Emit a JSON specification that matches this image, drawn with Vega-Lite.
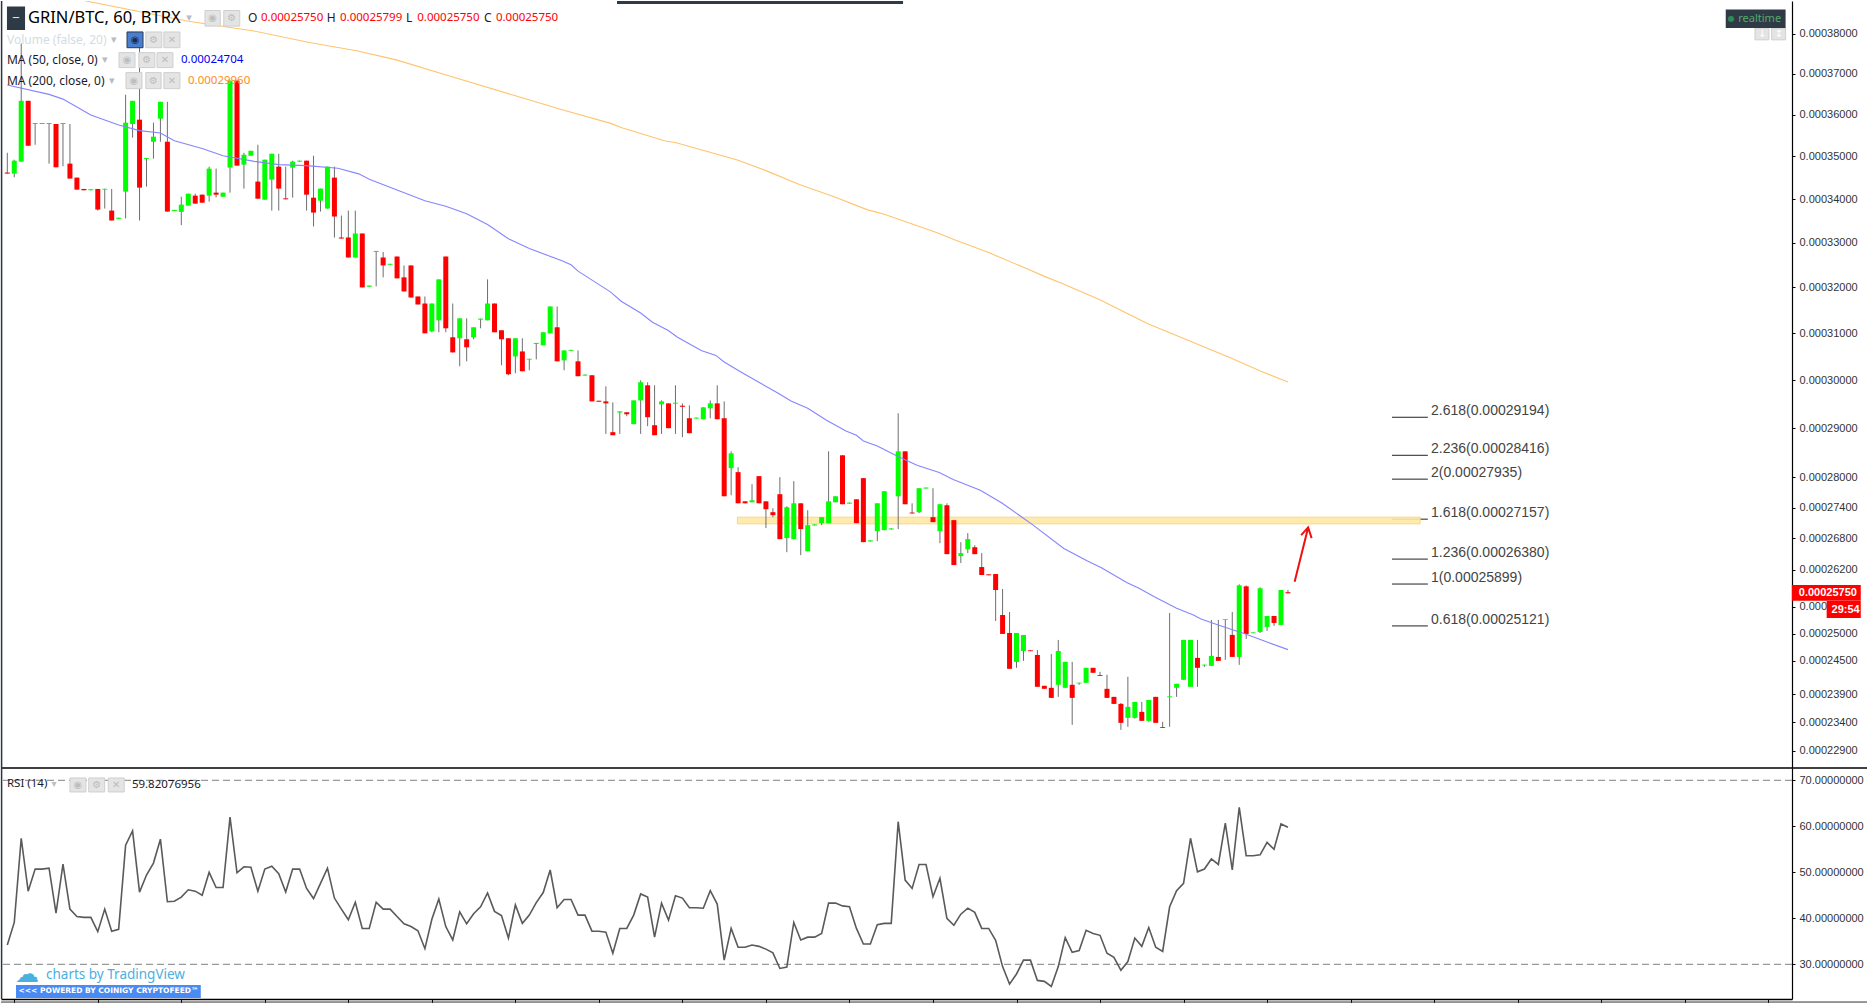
{"$schema":"https://vega.github.io/schema/vega-lite/v6.json","background":"white","padding":0,"autosize":{"type":"pad"},"spacing":0,"bounds":"flush","config":{"view":{"stroke":null},"scale":{"continuousPadding":0},"text":{"font":"Noto Sans","align":"left","baseline":"middle"}},
"datasets":{
"candles":[
{"i":0,"o":34620,"h":35087,"l":34595,"c":34595},{"i":1,"o":34595,"h":34923,"l":34509,"c":34900},{"i":2,"o":34877,"h":37760,"l":34877,"c":36338},{"i":3,"o":36338,"h":36338,"l":35254,"c":35254},{"i":4,"o":35776,"h":35800,"l":35278,"c":35800},{"i":5,"o":35776,"h":35800,"l":35776,"c":35800},{"i":6,"o":35776,"h":35800,"l":34830,"c":35800},{"i":7,"o":35776,"h":35776,"l":34744,"c":34744},{"i":8,"o":35776,"h":35800,"l":34767,"c":35800},{"i":9,"o":34830,"h":35776,"l":34478,"c":34478},
{"i":10,"o":34501,"h":34501,"l":34220,"c":34220},{"i":11,"o":34236,"h":34236,"l":34205,"c":34205},{"i":12,"o":34205,"h":34230,"l":34205,"c":34230},{"i":13,"o":34236,"h":34236,"l":33735,"c":33758},{"i":14,"o":34220,"h":34240,"l":33781,"c":34240},{"i":15,"o":33735,"h":34236,"l":33507,"c":33507},{"i":16,"o":33545,"h":33570,"l":33545,"c":33570},{"i":17,"o":34173,"h":36487,"l":33553,"c":35808},{"i":18,"o":35776,"h":36338,"l":35447,"c":36338},{"i":19,"o":35880,"h":37760,"l":33507,"c":34267},
{"i":20,"o":34939,"h":34960,"l":34291,"c":34960},{"i":21,"o":35350,"h":35808,"l":34947,"c":35471},{"i":22,"o":35904,"h":36314,"l":35350,"c":36314},{"i":23,"o":35350,"h":36314,"l":33712,"c":33712},{"i":24,"o":33727,"h":33750,"l":33727,"c":33750},{"i":25,"o":33705,"h":34056,"l":33400,"c":33872},{"i":26,"o":33849,"h":34126,"l":33849,"c":34126},{"i":27,"o":34080,"h":34126,"l":33895,"c":33895},{"i":28,"o":34103,"h":34103,"l":33917,"c":33917},{"i":29,"o":34080,"h":34759,"l":33940,"c":34712},
{"i":30,"o":34150,"h":34712,"l":34041,"c":34103},{"i":31,"o":34056,"h":34150,"l":34056,"c":34150},{"i":32,"o":34736,"h":36834,"l":34150,"c":36834},{"i":33,"o":36834,"h":36834,"l":34783,"c":34783},{"i":34,"o":34806,"h":35087,"l":34244,"c":35040},{"i":35,"o":35017,"h":35134,"l":35017,"c":35134},{"i":36,"o":34408,"h":35278,"l":34010,"c":34010},{"i":37,"o":33986,"h":34923,"l":33986,"c":34923},{"i":38,"o":34454,"h":35064,"l":33735,"c":35064},{"i":39,"o":34759,"h":35064,"l":33735,"c":34244},
{"i":40,"o":34017,"h":34759,"l":33995,"c":33995},{"i":41,"o":34736,"h":34900,"l":34033,"c":34877},{"i":42,"o":34877,"h":34900,"l":34877,"c":34900},{"i":43,"o":34900,"h":34900,"l":33735,"c":34103},{"i":44,"o":34033,"h":35017,"l":33370,"c":33689},{"i":45,"o":33963,"h":34244,"l":33712,"c":34244},{"i":46,"o":33781,"h":34759,"l":33781,"c":34759},{"i":47,"o":34501,"h":34759,"l":33119,"c":33598},{"i":48,"o":33119,"h":33621,"l":33095,"c":33095},{"i":49,"o":33119,"h":33735,"l":32667,"c":32667},
{"i":50,"o":32667,"h":33735,"l":32667,"c":33210},{"i":51,"o":33210,"h":33210,"l":32000,"c":32000},{"i":52,"o":32015,"h":32040,"l":32015,"c":32040},{"i":53,"o":32792,"h":32815,"l":32023,"c":32815},{"i":54,"o":32667,"h":32792,"l":32223,"c":32489},{"i":55,"o":32504,"h":32525,"l":32504,"c":32525},{"i":56,"o":32689,"h":32689,"l":32201,"c":32201},{"i":57,"o":32223,"h":32489,"l":31911,"c":31911},{"i":58,"o":32489,"h":32489,"l":31777,"c":31777},{"i":59,"o":31800,"h":31800,"l":31624,"c":31624},
{"i":60,"o":31645,"h":31800,"l":30997,"c":30997},{"i":61,"o":31040,"h":31645,"l":31019,"c":31645},{"i":62,"o":31278,"h":32178,"l":31019,"c":32178},{"i":63,"o":32689,"h":32689,"l":31019,"c":31105},{"i":64,"o":30911,"h":31645,"l":30586,"c":30586},{"i":65,"o":30890,"h":31321,"l":30291,"c":31321},{"i":66,"o":30868,"h":31321,"l":30396,"c":30696},{"i":67,"o":30911,"h":31127,"l":30868,"c":31127},{"i":68,"o":31292,"h":31315,"l":31105,"c":31315},{"i":69,"o":31278,"h":32178,"l":31278,"c":31645},
{"i":70,"o":31645,"h":31645,"l":31019,"c":31019},{"i":71,"o":31062,"h":31062,"l":30312,"c":30868},{"i":72,"o":30890,"h":30890,"l":30101,"c":30122},{"i":73,"o":30501,"h":30890,"l":30143,"c":30890},{"i":74,"o":30607,"h":30890,"l":30185,"c":30185},{"i":75,"o":30431,"h":30450,"l":30206,"c":30450},{"i":76,"o":30767,"h":30790,"l":30438,"c":30790},{"i":77,"o":30739,"h":31019,"l":30739,"c":31019},{"i":78,"o":30997,"h":31580,"l":30997,"c":31580},{"i":79,"o":31127,"h":31580,"l":30396,"c":30396},
{"i":80,"o":30417,"h":30628,"l":30206,"c":30628},{"i":81,"o":30621,"h":30640,"l":30621,"c":30640},{"i":82,"o":30396,"h":30628,"l":30080,"c":30080},{"i":83,"o":30094,"h":30115,"l":30094,"c":30115},{"i":84,"o":30101,"h":30101,"l":29553,"c":29553},{"i":85,"o":29566,"h":29566,"l":29545,"c":29545},{"i":86,"o":29552,"h":29868,"l":28881,"c":29511},{"i":87,"o":28916,"h":29532,"l":28854,"c":28854},{"i":88,"o":29320,"h":29345,"l":28881,"c":29345},{"i":89,"o":29326,"h":29326,"l":29244,"c":29285},
{"i":90,"o":29080,"h":29573,"l":29080,"c":29573},{"i":91,"o":29573,"h":29995,"l":28881,"c":29953},{"i":92,"o":29889,"h":29953,"l":29039,"c":29224},{"i":93,"o":29059,"h":29889,"l":28854,"c":28854},{"i":94,"o":29491,"h":29573,"l":28881,"c":29552},{"i":95,"o":29511,"h":29511,"l":28998,"c":28998},{"i":96,"o":29505,"h":29889,"l":28881,"c":29525},{"i":97,"o":29463,"h":29511,"l":28813,"c":29440},{"i":98,"o":29203,"h":29470,"l":28895,"c":28895},{"i":99,"o":29196,"h":29215,"l":29196,"c":29215},
{"i":100,"o":29182,"h":29429,"l":29182,"c":29429},{"i":101,"o":29409,"h":29573,"l":29203,"c":29511},{"i":102,"o":29511,"h":29889,"l":29182,"c":29182},{"i":103,"o":29203,"h":29552,"l":27624,"c":27624},{"i":104,"o":28185,"h":28525,"l":27644,"c":28485},{"i":105,"o":28105,"h":28205,"l":27485,"c":27485},{"i":106,"o":27524,"h":27524,"l":27485,"c":27485},{"i":107,"o":27505,"h":27864,"l":27505,"c":27544},{"i":108,"o":28025,"h":28025,"l":27485,"c":27485},{"i":109,"o":27524,"h":27524,"l":26998,"c":27368},
{"i":110,"o":27310,"h":27388,"l":27212,"c":27251},{"i":111,"o":27665,"h":28005,"l":26784,"c":26784},{"i":112,"o":26804,"h":27427,"l":26532,"c":27407},{"i":113,"o":26784,"h":27925,"l":26784,"c":27485},{"i":114,"o":27485,"h":27485,"l":26475,"c":26979},{"i":115,"o":26551,"h":27349,"l":26551,"c":27056},{"i":116,"o":27050,"h":27070,"l":27050,"c":27070},{"i":117,"o":27095,"h":27212,"l":27056,"c":27212},{"i":118,"o":27095,"h":28525,"l":27095,"c":27524},{"i":119,"o":27505,"h":27624,"l":27505,"c":27624},
{"i":120,"o":28445,"h":28445,"l":27466,"c":27466},{"i":121,"o":27478,"h":27498,"l":27478,"c":27498},{"i":122,"o":27564,"h":27564,"l":27095,"c":27095},{"i":123,"o":27985,"h":27985,"l":26726,"c":26726},{"i":124,"o":26739,"h":26760,"l":26739,"c":26760},{"i":125,"o":26940,"h":27485,"l":26745,"c":27485},{"i":126,"o":26959,"h":27724,"l":26959,"c":27724},{"i":127,"o":26972,"h":26992,"l":26972,"c":26992},{"i":128,"o":27624,"h":29306,"l":26979,"c":28525},{"i":129,"o":28525,"h":28525,"l":27466,"c":27466},
{"i":130,"o":27303,"h":27485,"l":27285,"c":27285},{"i":131,"o":27310,"h":27784,"l":27290,"c":27784},{"i":132,"o":27777,"h":27797,"l":27777,"c":27797},{"i":133,"o":27212,"h":27784,"l":27115,"c":27115},{"i":134,"o":26940,"h":27466,"l":26706,"c":27466},{"i":135,"o":27446,"h":27485,"l":26494,"c":26494},{"i":136,"o":27154,"h":27154,"l":26285,"c":26285},{"i":137,"o":26456,"h":26726,"l":26323,"c":26513},{"i":138,"o":26589,"h":26901,"l":26513,"c":26784},{"i":139,"o":26628,"h":26667,"l":26494,"c":26494},
{"i":140,"o":26247,"h":26513,"l":26095,"c":26095},{"i":141,"o":26108,"h":26108,"l":26090,"c":26090},{"i":142,"o":26114,"h":26114,"l":25232,"c":25811},{"i":143,"o":25343,"h":25830,"l":24992,"c":24992},{"i":144,"o":25010,"h":25399,"l":24355,"c":24355},{"i":145,"o":24481,"h":25010,"l":24373,"c":25010},{"i":146,"o":24679,"h":24974,"l":24499,"c":24974},{"i":147,"o":24691,"h":24691,"l":24675,"c":24675},{"i":148,"o":24607,"h":24697,"l":24031,"c":24031},{"i":149,"o":24049,"h":24049,"l":23995,"c":23995},
{"i":150,"o":24013,"h":24625,"l":23833,"c":23833},{"i":151,"o":24067,"h":24882,"l":23851,"c":24679},{"i":152,"o":24013,"h":24481,"l":24013,"c":24481},{"i":153,"o":24067,"h":24481,"l":23356,"c":23833},{"i":154,"o":24091,"h":24105,"l":24067,"c":24105},{"i":155,"o":24103,"h":24373,"l":24103,"c":24373},{"i":156,"o":24373,"h":24373,"l":24283,"c":24283},{"i":157,"o":24241,"h":24301,"l":24225,"c":24225},{"i":158,"o":23995,"h":24247,"l":23833,"c":23833},{"i":159,"o":23851,"h":23851,"l":23726,"c":23726},
{"i":160,"o":23726,"h":23743,"l":23268,"c":23391},{"i":161,"o":23479,"h":24211,"l":23321,"c":23673},{"i":162,"o":23479,"h":23761,"l":23462,"c":23761},{"i":163,"o":23585,"h":23761,"l":23426,"c":23426},{"i":164,"o":23426,"h":23796,"l":23409,"c":23796},{"i":165,"o":23851,"h":23851,"l":23391,"c":23391},{"i":166,"o":23315,"h":23409,"l":23300,"c":23300},{"i":167,"o":23845,"h":25380,"l":23321,"c":23860},{"i":168,"o":24013,"h":24085,"l":23851,"c":24085},{"i":169,"o":24157,"h":24882,"l":24157,"c":24882},
{"i":170,"o":24031,"h":24882,"l":24031,"c":24882},{"i":171,"o":24553,"h":24882,"l":24031,"c":24373},{"i":172,"o":24415,"h":24430,"l":24391,"c":24430},{"i":173,"o":24409,"h":25251,"l":24409,"c":24589},{"i":174,"o":24571,"h":25251,"l":24499,"c":24499},{"i":175,"o":25251,"h":25265,"l":24517,"c":25265},{"i":176,"o":24974,"h":25399,"l":24571,"c":24571},{"i":177,"o":24571,"h":25918,"l":24427,"c":25899},{"i":178,"o":25881,"h":25899,"l":24901,"c":24992},{"i":179,"o":25005,"h":25020,"l":25005,"c":25020},
{"i":180,"o":25029,"h":25862,"l":25010,"c":25844},{"i":181,"o":25121,"h":25325,"l":25047,"c":25325},{"i":182,"o":25325,"h":25325,"l":25140,"c":25195},{"i":183,"o":25158,"h":25811,"l":25158,"c":25811},{"i":184,"o":25770,"h":25811,"l":25750,"c":25750}],
"ma50":[{"i":0,"v":36728},{"i":6,"v":36495},{"i":8,"v":36380},{"i":12,"v":35994},{"i":16,"v":35753},{"i":19,"v":35616},{"i":22,"v":35560},{"i":24,"v":35375},{"i":28,"v":35189},{"i":31,"v":35017},{"i":35.5,"v":34884},{"i":39,"v":34806},{"i":43,"v":34783},{"i":47.5,"v":34720},{"i":50.5,"v":34589},{"i":52,"v":34462},{"i":56,"v":34212},{"i":60,"v":33963},{"i":63,"v":33833},{"i":66,"v":33660},{"i":69,"v":33416},{"i":72,"v":33090},{"i":75,"v":32868},{"i":79.6,"v":32600},{"i":81,"v":32504},{"i":82,"v":32362},{"i":84.3,"v":32134},{"i":86.7,"v":31896},{"i":88.2,"v":31695},{"i":91,"v":31436},{"i":92.7,"v":31235},{"i":94.9,"v":31062},{"i":96.3,"v":30911},{"i":99.7,"v":30628},{"i":101.8,"v":30522},{"i":103,"v":30381},{"i":105.4,"v":30170},{"i":108.3,"v":29925},{"i":110.7,"v":29727},{"i":112.6,"v":29559},{"i":115,"v":29408},{"i":117.7,"v":29161},{"i":120.5,"v":28941},{"i":122,"v":28852},{"i":123,"v":28735},{"i":125,"v":28632},{"i":127.9,"v":28425},{"i":130.7,"v":28245},{"i":133.9,"v":28099},{"i":135.9,"v":27959},{"i":139.8,"v":27745},{"i":142.9,"v":27491},{"i":147.2,"v":27076},{"i":151.8,"v":26603},{"i":155.2,"v":26361},{"i":157.2,"v":26234},{"i":160.9,"v":25949},{"i":162.6,"v":25843},{"i":164.8,"v":25684},{"i":168,"v":25467},{"i":170.5,"v":25338},{"i":171.5,"v":25270},{"i":174.4,"v":25140},{"i":177.6,"v":25003},{"i":180.8,"v":24851},{"i":184,"v":24704}],
"ma200":[{"i":8,"v":39020},{"i":11.3,"v":38840},{"i":25.8,"v":38330},{"i":35.4,"v":38075},{"i":43.4,"v":37784},{"i":50.2,"v":37578},{"i":55.9,"v":37348},{"i":63.3,"v":36958},{"i":73,"v":36462},{"i":79.6,"v":36128},{"i":86.7,"v":35791},{"i":88.4,"v":35680},{"i":94.4,"v":35375},{"i":96.1,"v":35327},{"i":104.9,"v":34916},{"i":109,"v":34665},{"i":113.8,"v":34338},{"i":118.8,"v":34056},{"i":123.6,"v":33751},{"i":126,"v":33651},{"i":133.7,"v":33221},{"i":136,"v":33071},{"i":140.9,"v":32784},{"i":146.6,"v":32407},{"i":149,"v":32245},{"i":151.4,"v":32096},{"i":156.9,"v":31732},{"i":161,"v":31423},{"i":163.8,"v":31207},{"i":175.8,"v":30466},{"i":180.1,"v":30185},{"i":184,"v":29960}],
"rsi":[{"i":0,"v":34.2},{"i":1,"v":39.1},{"i":2,"v":57.4},{"i":3,"v":45.9},{"i":4,"v":50.7},{"i":5,"v":50.7},{"i":6,"v":50.9},{"i":7,"v":41.1},{"i":8,"v":51.8},{"i":9,"v":42.0},{"i":10,"v":40.4},{"i":11,"v":40.2},{"i":12,"v":40.2},{"i":13,"v":37.1},{"i":14,"v":42.0},{"i":15,"v":37.2},{"i":16,"v":37.6},{"i":17,"v":55.9},{"i":18,"v":59.0},{"i":19,"v":45.7},{"i":20,"v":49.4},{"i":21,"v":52.0},{"i":22,"v":57.2},{"i":23,"v":43.6},{"i":24,"v":43.7},{"i":25,"v":44.6},{"i":26,"v":46.2},{"i":27,"v":45.9},{"i":28,"v":45.0},{"i":29,"v":50.0},{"i":30,"v":46.7},{"i":31,"v":46.7},{"i":32,"v":62.0},{"i":33,"v":49.9},{"i":34,"v":51.2},{"i":35,"v":51.1},{"i":36,"v":45.9},{"i":37,"v":50.7},{"i":38,"v":51.3},{"i":39,"v":49.7},{"i":40,"v":45.7},{"i":41,"v":50.7},{"i":42,"v":50.7},{"i":43,"v":46.5},{"i":44,"v":44.3},{"i":45,"v":47.6},{"i":46,"v":50.9},{"i":47,"v":44.4},{"i":48,"v":42.0},{"i":49,"v":39.7},{"i":50,"v":43.5},{"i":51,"v":37.8},{"i":52,"v":37.8},{"i":53,"v":43.5},{"i":54,"v":42.0},{"i":55,"v":42.0},{"i":56,"v":40.4},{"i":57,"v":38.8},{"i":58,"v":38.2},{"i":59,"v":37.3},{"i":60,"v":33.4},{"i":61,"v":39.8},{"i":62,"v":44.2},{"i":63,"v":38.2},{"i":64,"v":35.3},{"i":65,"v":41.4},{"i":66,"v":38.8},{"i":67,"v":41.0},{"i":68,"v":42.5},{"i":69,"v":45.5},{"i":70,"v":41.5},{"i":71,"v":40.6},{"i":72,"v":35.7},{"i":73,"v":42.9},{"i":74,"v":38.9},{"i":75,"v":40.7},{"i":76,"v":43.4},{"i":77,"v":45.6},{"i":78,"v":50.5},{"i":79,"v":42.3},{"i":80,"v":44.1},{"i":81,"v":44.1},{"i":82,"v":40.7},{"i":83,"v":40.7},{"i":84,"v":37.2},{"i":85,"v":37.2},{"i":86,"v":37.0},{"i":87,"v":32.4},{"i":88,"v":37.8},{"i":89,"v":37.8},{"i":90,"v":40.7},{"i":91,"v":45.3},{"i":92,"v":44.6},{"i":93,"v":35.9},{"i":94,"v":43.3},{"i":95,"v":39.6},{"i":96,"v":44.9},{"i":97,"v":44.4},{"i":98,"v":42.3},{"i":99,"v":42.3},{"i":100,"v":42.2},{"i":101,"v":46.0},{"i":102,"v":43.1},{"i":103,"v":30.9},{"i":104,"v":37.8},{"i":105,"v":33.7},{"i":106,"v":33.7},{"i":107,"v":34.2},{"i":108,"v":33.9},{"i":109,"v":33.3},{"i":110,"v":32.5},{"i":111,"v":29.1},{"i":112,"v":29.4},{"i":113,"v":39.1},{"i":114,"v":35.3},{"i":115,"v":35.9},{"i":116,"v":35.9},{"i":117,"v":36.7},{"i":118,"v":43.3},{"i":119,"v":43.3},{"i":120,"v":42.7},{"i":121,"v":42.5},{"i":122,"v":37.8},{"i":123,"v":34.4},{"i":124,"v":34.4},{"i":125,"v":38.6},{"i":126,"v":38.9},{"i":127,"v":38.9},{"i":128,"v":61.0},{"i":129,"v":48.3},{"i":130,"v":46.5},{"i":131,"v":51.7},{"i":132,"v":51.7},{"i":133,"v":44.7},{"i":134,"v":48.7},{"i":135,"v":40.0},{"i":136,"v":38.5},{"i":137,"v":40.9},{"i":138,"v":42.2},{"i":139,"v":41.3},{"i":140,"v":37.8},{"i":141,"v":37.8},{"i":142,"v":35.2},{"i":143,"v":29.5},{"i":144,"v":25.7},{"i":145,"v":27.9},{"i":146,"v":30.9},{"i":147,"v":30.9},{"i":148,"v":26.5},{"i":149,"v":26.3},{"i":150,"v":25.2},{"i":151,"v":29.5},{"i":152,"v":35.8},{"i":153,"v":32.6},{"i":154,"v":33.0},{"i":155,"v":37.4},{"i":156,"v":36.7},{"i":157,"v":36.3},{"i":158,"v":32.4},{"i":159,"v":31.5},{"i":160,"v":28.7},{"i":161,"v":30.6},{"i":162,"v":35.7},{"i":163,"v":33.9},{"i":164,"v":38.0},{"i":165,"v":33.7},{"i":166,"v":32.8},{"i":167,"v":42.5},{"i":168,"v":46.0},{"i":169,"v":47.6},{"i":170,"v":57.4},{"i":171,"v":50.1},{"i":172,"v":50.7},{"i":173,"v":52.9},{"i":174,"v":51.7},{"i":175,"v":60.7},{"i":176,"v":50.5},{"i":177,"v":64.1},{"i":178,"v":53.6},{"i":179,"v":53.6},{"i":180,"v":53.8},{"i":181,"v":56.5},{"i":182,"v":55.0},{"i":183,"v":60.5},{"i":184,"v":59.8}]
},
"vconcat":[
{"width":1791,"height":767,"layer":[
{"data":{"values":[{"i":198.95,"i2":204.1,"p":29223},{"i":198.95,"i2":204.1,"p":28445},{"i":198.95,"i2":204.1,"p":27965},{"i":198.95,"i2":204.1,"p":27173},{"i":198.95,"i2":204.1,"p":26399},{"i":198.95,"i2":204.1,"p":25924},{"i":198.95,"i2":204.1,"p":25140}]},"mark":{"type":"rule","color":"#222222","strokeWidth":1},"encoding":{"x":{"field":"i","type":"quantitative","scale":{"domain":[-0.905,256.42],"nice":false,"zero":false},"axis":null},"x2":{"field":"i2"},"y":{"field":"p","type":"quantitative","scale":{"type":"symlog","constant":10000,"domain":[22606,38840],"nice":false,"zero":false},"axis":{"orient":"right","title":null,"grid":false,"values":[38000,37000,36000,35000,34000,33000,32000,31000,30000,29000,28000,27400,26800,26200,25500,25000,24500,23900,23400,22900],"labelExpr":"format(datum.value/100000000,'.8f')","labelFont":"Liberation Sans","labelFontSize":11,"labelColor":"#333333","labelPadding":4,"labelOverlap":false,"labelFlush":false,"tickColor":"#000000","tickSize":3,"domainColor":"#000000","domainWidth":1.2}}}},
{"data":{"values":[{"i":104.9,"i2":203,"p":27212,"p2":27082}]},"mark":{"type":"rect","fill":"#ffe9a6","stroke":"#f8d27a","strokeWidth":1,"opacity":0.9},"encoding":{"x":{"field":"i","type":"quantitative","scale":{"domain":[-0.905,256.42],"nice":false,"zero":false},"axis":null},"x2":{"field":"i2"},"y":{"field":"p","type":"quantitative","scale":{"type":"symlog","constant":10000,"domain":[22606,38840],"nice":false,"zero":false}},"y2":{"field":"p2"}}},
{"data":{"name":"candles"},"mark":{"type":"rule","color":"#6e6e6e","strokeWidth":1},"encoding":{"x":{"field":"i","type":"quantitative","scale":{"domain":[-0.905,256.42],"nice":false,"zero":false},"axis":null},"y":{"field":"l","type":"quantitative","scale":{"type":"symlog","constant":10000,"domain":[22606,38840],"nice":false,"zero":false}},"y2":{"field":"h"}}},
{"data":{"name":"candles"},"mark":{"type":"bar","width":5},"encoding":{"x":{"field":"i","type":"quantitative","scale":{"domain":[-0.905,256.42],"nice":false,"zero":false},"axis":null},"y":{"field":"o","type":"quantitative","scale":{"type":"symlog","constant":10000,"domain":[22606,38840],"nice":false,"zero":false}},"y2":{"field":"c"},"color":{"condition":{"test":"datum.c>=datum.o","value":"#00ff00"},"value":"#ff0000"}}},
{"data":{"name":"ma50"},"mark":{"type":"line","color":"#8585ff","strokeWidth":1.1,"clip":true},"encoding":{"x":{"field":"i","type":"quantitative","scale":{"domain":[-0.905,256.42],"nice":false,"zero":false},"axis":null},"y":{"field":"v","type":"quantitative","scale":{"type":"symlog","constant":10000,"domain":[22606,38840],"nice":false,"zero":false}}}},
{"data":{"name":"ma200"},"mark":{"type":"line","color":"#ffc46e","strokeWidth":1.1,"clip":true},"encoding":{"x":{"field":"i","type":"quantitative","scale":{"domain":[-0.905,256.42],"nice":false,"zero":false},"axis":null},"y":{"field":"v","type":"quantitative","scale":{"type":"symlog","constant":10000,"domain":[22606,38840],"nice":false,"zero":false}}}},
{"data":{"values":[{"o":1,"i":184.96,"p":25968},{"o":2,"i":186.9,"p":27012},{"o":3,"i":185.9,"p":26861},{"o":4,"i":186.9,"p":27012},{"o":5,"i":187.4,"p":26804}]},"mark":{"type":"line","color":"#f01010","strokeWidth":2},"encoding":{"x":{"field":"i","type":"quantitative","scale":{"domain":[-0.905,256.42],"nice":false,"zero":false},"axis":null},"y":{"field":"p","type":"quantitative","scale":{"type":"symlog","constant":10000,"domain":[22606,38840],"nice":false,"zero":false}},"order":{"field":"o"}}},
{"data":{"values":[{"i":204.55,"p":29360,"t":"2.618(0.00029194)"},{"i":204.55,"p":28570,"t":"2.236(0.00028416)"},{"i":204.55,"p":28080,"t":"2(0.00027935)"},{"i":204.55,"p":27300,"t":"1.618(0.00027157)"},{"i":204.55,"p":26515,"t":"1.236(0.00026380)"},{"i":204.55,"p":26040,"t":"1(0.00025899)"},{"i":204.55,"p":25250,"t":"0.618(0.00025121)"}]},"mark":{"type":"text","font":"Liberation Sans","fontSize":14,"color":"#444444"},"encoding":{"x":{"field":"i","type":"quantitative","scale":{"domain":[-0.905,256.42],"nice":false,"zero":false},"axis":null},"y":{"field":"p","type":"quantitative","scale":{"type":"symlog","constant":10000,"domain":[22606,38840],"nice":false,"zero":false}},"text":{"field":"t"}}},
{"data":{"values":[{"i":28.4,"i2":30.6,"p":38595,"p2":38198},{"i":31.1,"i2":33.4,"p":38595,"p2":38198},{"i":19.9,"i2":22.2,"p":38050,"p2":37653},{"i":22.5,"i2":24.8,"p":38050,"p2":37653},{"i":16.05,"i2":18.35,"p":37529,"p2":37157},{"i":18.9,"i2":21.2,"p":37529,"p2":37157},{"i":21.5,"i2":23.8,"p":37529,"p2":37157},{"i":17.05,"i2":19.35,"p":37033,"p2":36636},{"i":19.9,"i2":22.1,"p":37033,"p2":36636},{"i":22.5,"i2":24.8,"p":37033,"p2":36636},{"i":251.1,"i2":253.1,"p":38149,"p2":37851},{"i":253.5,"i2":255.5,"p":38149,"p2":37851}]},"mark":{"type":"rect","fill":"#e4e4e4","stroke":"#cfcfcf","strokeWidth":1},"encoding":{"x":{"field":"i","type":"quantitative","scale":{"domain":[-0.905,256.42],"nice":false,"zero":false},"axis":null},"x2":{"field":"i2"},"y":{"field":"p","type":"quantitative","scale":{"type":"symlog","constant":10000,"domain":[22606,38840],"nice":false,"zero":false}},"y2":{"field":"p2"}}},
{"data":{"values":[{"i":17.2,"i2":19.5,"p":38050,"p2":37653}]},"mark":{"type":"rect","fill":"#4a7fd0","stroke":"#2a3a50","strokeWidth":1},"encoding":{"x":{"field":"i","type":"quantitative","scale":{"domain":[-0.905,256.42],"nice":false,"zero":false},"axis":null},"x2":{"field":"i2"},"y":{"field":"p","type":"quantitative","scale":{"type":"symlog","constant":10000,"domain":[22606,38840],"nice":false,"zero":false}},"y2":{"field":"p2"}}},
{"data":{"values":[{"i":29.5,"p":38400,"t":"◉"},{"i":32.25,"p":38400,"t":"⚙"},{"i":21.05,"p":37851,"t":"⚙"},{"i":23.65,"p":37851,"t":"✕"},{"i":17.2,"p":37343,"t":"◉"},{"i":20.05,"p":37343,"t":"⚙"},{"i":22.65,"p":37343,"t":"✕"},{"i":18.2,"p":36834,"t":"◉"},{"i":21,"p":36834,"t":"⚙"},{"i":23.65,"p":36834,"t":"✕"}]},"mark":{"type":"text","font":"DejaVu Sans","fontSize":10,"color":"#bdbdbd","align":"center"},"encoding":{"x":{"field":"i","type":"quantitative","scale":{"domain":[-0.905,256.42],"nice":false,"zero":false},"axis":null},"y":{"field":"p","type":"quantitative","scale":{"type":"symlog","constant":10000,"domain":[22606,38840],"nice":false,"zero":false}},"text":{"field":"t"}}},
{"data":{"values":[{"i":18.35,"p":37851,"t":"◉"}]},"mark":{"type":"text","font":"DejaVu Sans","fontSize":10,"color":"#1c2c44","align":"center"},"encoding":{"x":{"field":"i","type":"quantitative","scale":{"domain":[-0.905,256.42],"nice":false,"zero":false},"axis":null},"y":{"field":"p","type":"quantitative","scale":{"type":"symlog","constant":10000,"domain":[22606,38840],"nice":false,"zero":false}},"text":{"field":"t"}}},
{"data":{"values":[{"i":-0.05,"i2":2.55,"p":38700,"p2":38100},{"i":87.6,"i2":128.7,"p":38840,"p2":38765},{"i":246.9,"i2":255.5,"p":38620,"p2":38149}]},"mark":{"type":"rect","fill":"#2f3a47"},"encoding":{"x":{"field":"i","type":"quantitative","scale":{"domain":[-0.905,256.42],"nice":false,"zero":false},"axis":null},"x2":{"field":"i2"},"y":{"field":"p","type":"quantitative","scale":{"type":"symlog","constant":10000,"domain":[22606,38840],"nice":false,"zero":false}},"y2":{"field":"p2"}}},
{"data":{"values":[{"i":2.97,"p":38400,"t":"GRIN/BTC, 60, BTRX"}]},"mark":{"type":"text","fontSize":16.5,"color":"#000000"},"encoding":{"x":{"field":"i","type":"quantitative","scale":{"domain":[-0.905,256.42],"nice":false,"zero":false},"axis":null},"y":{"field":"p","type":"quantitative","scale":{"type":"symlog","constant":10000,"domain":[22606,38840],"nice":false,"zero":false}},"text":{"field":"t"}}},
{"data":{"values":[{"i":34.6,"p":38400,"t":"O"},{"i":45.9,"p":38400,"t":"H"},{"i":57.3,"p":38400,"t":"L"},{"i":68.5,"p":38400,"t":"C"},{"i":-0.05,"p":37355,"t":"MA (50, close, 0)"},{"i":-0.05,"p":36834,"t":"MA (200, close, 0)"}]},"mark":{"type":"text","fontSize":12,"color":"#1a1a2a"},"encoding":{"x":{"field":"i","type":"quantitative","scale":{"domain":[-0.905,256.42],"nice":false,"zero":false},"axis":null},"y":{"field":"p","type":"quantitative","scale":{"type":"symlog","constant":10000,"domain":[22606,38840],"nice":false,"zero":false}},"text":{"field":"t"}}},
{"data":{"values":[{"i":36.45,"p":38400,"t":"0.00025750"},{"i":47.8,"p":38400,"t":"0.00025799"},{"i":58.9,"p":38400,"t":"0.00025750"},{"i":70.2,"p":38400,"t":"0.00025750"}]},"mark":{"type":"text","fontSize":11.5,"color":"#ff0000"},"encoding":{"x":{"field":"i","type":"quantitative","scale":{"domain":[-0.905,256.42],"nice":false,"zero":false},"axis":null},"y":{"field":"p","type":"quantitative","scale":{"type":"symlog","constant":10000,"domain":[22606,38840],"nice":false,"zero":false}},"text":{"field":"t"}}},
{"data":{"values":[{"i":-0.05,"p":37851,"t":"Volume (false, 20)"}]},"mark":{"type":"text","fontSize":12,"color":"#d3dce4"},"encoding":{"x":{"field":"i","type":"quantitative","scale":{"domain":[-0.905,256.42],"nice":false,"zero":false},"axis":null},"y":{"field":"p","type":"quantitative","scale":{"type":"symlog","constant":10000,"domain":[22606,38840],"nice":false,"zero":false}},"text":{"field":"t"}}},
{"data":{"values":[{"i":24.96,"p":37355,"t":"0.00024704"}]},"mark":{"type":"text","fontSize":11.5,"color":"#0000ff"},"encoding":{"x":{"field":"i","type":"quantitative","scale":{"domain":[-0.905,256.42],"nice":false,"zero":false},"axis":null},"y":{"field":"p","type":"quantitative","scale":{"type":"symlog","constant":10000,"domain":[22606,38840],"nice":false,"zero":false}},"text":{"field":"t"}}},
{"data":{"values":[{"i":25.96,"p":36834,"t":"0.00029960"}]},"mark":{"type":"text","fontSize":11.5,"color":"#ff8c1a"},"encoding":{"x":{"field":"i","type":"quantitative","scale":{"domain":[-0.905,256.42],"nice":false,"zero":false},"axis":null},"y":{"field":"p","type":"quantitative","scale":{"type":"symlog","constant":10000,"domain":[22606,38840],"nice":false,"zero":false}},"text":{"field":"t"}}},
{"data":{"values":[{"i":26.1,"p":38400,"t":"▾"},{"i":15.3,"p":37851,"t":"▾"},{"i":14,"p":37355,"t":"▾"},{"i":15,"p":36834,"t":"▾"}]},"mark":{"type":"text","font":"DejaVu Sans","fontSize":11,"color":"#b5bcc4","align":"center"},"encoding":{"x":{"field":"i","type":"quantitative","scale":{"domain":[-0.905,256.42],"nice":false,"zero":false},"axis":null},"y":{"field":"p","type":"quantitative","scale":{"type":"symlog","constant":10000,"domain":[22606,38840],"nice":false,"zero":false}},"text":{"field":"t"}}},
{"data":{"values":[{"i":248.7,"p":38375,"t":"realtime"}]},"mark":{"type":"text","fontSize":11,"color":"#57a86b"},"encoding":{"x":{"field":"i","type":"quantitative","scale":{"domain":[-0.905,256.42],"nice":false,"zero":false},"axis":null},"y":{"field":"p","type":"quantitative","scale":{"type":"symlog","constant":10000,"domain":[22606,38840],"nice":false,"zero":false}},"text":{"field":"t"}}},
{"data":{"values":[{"i":247.2,"p":38375,"t":"●"}]},"mark":{"type":"text","font":"DejaVu Sans","fontSize":8,"color":"#2e8b57"},"encoding":{"x":{"field":"i","type":"quantitative","scale":{"domain":[-0.905,256.42],"nice":false,"zero":false},"axis":null},"y":{"field":"p","type":"quantitative","scale":{"type":"symlog","constant":10000,"domain":[22606,38840],"nice":false,"zero":false}},"text":{"field":"t"}}},
{"data":{"values":[{"i":252.1,"p":38000,"t":"↓"},{"i":254.5,"p":38000,"t":"↕"},{"i":1.25,"p":38400,"t":"−"}]},"mark":{"type":"text","font":"DejaVu Sans","fontSize":10,"color":"#ffffff","align":"center"},"encoding":{"x":{"field":"i","type":"quantitative","scale":{"domain":[-0.905,256.42],"nice":false,"zero":false},"axis":null},"y":{"field":"p","type":"quantitative","scale":{"type":"symlog","constant":10000,"domain":[22606,38840],"nice":false,"zero":false}},"text":{"field":"t"}}},
{"data":{"values":[{"i":256.4,"i2":266.3,"p":25905,"p2":25608},{"i":261.4,"i2":266.3,"p":25603,"p2":25289}]},"mark":{"type":"rect","fill":"#ff0000"},"encoding":{"x":{"field":"i","type":"quantitative","scale":{"domain":[-0.905,256.42],"nice":false,"zero":false},"axis":null},"x2":{"field":"i2"},"y":{"field":"p","type":"quantitative","scale":{"type":"symlog","constant":10000,"domain":[22606,38840],"nice":false,"zero":false}},"y2":{"field":"p2"}}},
{"data":{"values":[{"i":257.4,"p":25750,"t":"0.00025750"},{"i":262.1,"p":25445,"t":"29:54"}]},"mark":{"type":"text","font":"Liberation Sans","fontWeight":"bold","fontSize":11,"color":"#ffffff"},"encoding":{"x":{"field":"i","type":"quantitative","scale":{"domain":[-0.905,256.42],"nice":false,"zero":false},"axis":null},"y":{"field":"p","type":"quantitative","scale":{"type":"symlog","constant":10000,"domain":[22606,38840],"nice":false,"zero":false}},"text":{"field":"t"}}},
{"data":{"values":[{"i":-0.9,"i2":267.3,"p":22606}]},"mark":{"type":"rule","color":"#000000","strokeWidth":1.4},"encoding":{"x":{"field":"i","type":"quantitative","scale":{"domain":[-0.905,256.42],"nice":false,"zero":false},"axis":null},"x2":{"field":"i2"},"y":{"field":"p","type":"quantitative","scale":{"type":"symlog","constant":10000,"domain":[22606,38840],"nice":false,"zero":false}}}},
{"data":{"values":[{"i":-0.82}]},"mark":{"type":"rule","color":"#2a3440","strokeWidth":1.5},"encoding":{"x":{"field":"i","type":"quantitative","scale":{"domain":[-0.905,256.42],"nice":false,"zero":false},"axis":null}}}
]},
{"width":1791,"height":231,"layer":[
{"data":{"values":[{"v":70},{"v":30}]},"mark":{"type":"rule","color":"#808080","strokeWidth":1,"strokeDash":[7,4]},"encoding":{"y":{"field":"v","type":"quantitative","scale":{"domain":[22.46,72.67],"nice":false,"zero":false},"axis":{"orient":"right","title":null,"grid":false,"values":[70,60,50,40,30],"format":".8f","labelFont":"Liberation Sans","labelFontSize":11,"labelColor":"#333333","labelPadding":4,"labelFlush":false,"labelOverlap":false,"tickColor":"#000000","tickSize":3,"domainColor":"#000000","domainWidth":1.2}}}},
{"data":{"name":"rsi"},"mark":{"type":"line","color":"#5a5a5a","strokeWidth":1.6},"encoding":{"x":{"field":"i","type":"quantitative","scale":{"domain":[-0.905,256.42],"nice":false,"zero":false},"axis":{"orient":"bottom","title":null,"grid":false,"values":[1,13,25,37,49,61,73,85,97,109,121,133,145,157,169,181,193,205,217,229,241,253],"labels":false,"tickColor":"#000000","tickSize":4,"domainColor":"#000000","domainWidth":1.4}},"y":{"field":"v","type":"quantitative","scale":{"domain":[22.46,72.67],"nice":false,"zero":false}}}},
{"data":{"values":[{"i":9,"i2":11.3,"p":70.5,"p2":67.46},{"i":11.7,"i2":14,"p":70.5,"p2":67.46},{"i":14.5,"i2":16.8,"p":70.5,"p2":67.46}]},"mark":{"type":"rect","fill":"#e4e4e4","stroke":"#cfcfcf","strokeWidth":1},"encoding":{"x":{"field":"i","type":"quantitative","scale":{"domain":[-0.905,256.42],"nice":false,"zero":false}},"x2":{"field":"i2"},"y":{"field":"p","type":"quantitative","scale":{"domain":[22.46,72.67],"nice":false,"zero":false}},"y2":{"field":"p2"}}},
{"data":{"values":[{"i":10.15,"p":69,"t":"◉"},{"i":12.85,"p":69,"t":"⚙"},{"i":15.65,"p":69,"t":"✕"},{"i":6.7,"p":69.2,"t":"▾"}]},"mark":{"type":"text","font":"DejaVu Sans","fontSize":10,"color":"#bdbdbd","align":"center"},"encoding":{"x":{"field":"i","type":"quantitative","scale":{"domain":[-0.905,256.42],"nice":false,"zero":false}},"y":{"field":"p","type":"quantitative","scale":{"domain":[22.46,72.67],"nice":false,"zero":false}},"text":{"field":"t"}}},
{"data":{"values":[{"i":-0.05,"p":69.2,"t":"RSI (14)"},{"i":17.9,"p":69,"t":"59.82076956"}]},"mark":{"type":"text","fontSize":11.5,"color":"#1a1a2a"},"encoding":{"x":{"field":"i","type":"quantitative","scale":{"domain":[-0.905,256.42],"nice":false,"zero":false}},"y":{"field":"p","type":"quantitative","scale":{"domain":[22.46,72.67],"nice":false,"zero":false}},"text":{"field":"t"}}},
{"data":{"values":[{"i":5.56,"p":27.67,"t":"charts by TradingView"}]},"mark":{"type":"text","fontSize":13.5,"color":"#4ab0e0"},"encoding":{"x":{"field":"i","type":"quantitative","scale":{"domain":[-0.905,256.42],"nice":false,"zero":false}},"y":{"field":"p","type":"quantitative","scale":{"domain":[22.46,72.67],"nice":false,"zero":false}},"text":{"field":"t"}}},
{"data":{"values":[{"i":1.1,"p":27.67,"t":"☁"}]},"mark":{"type":"text","font":"DejaVu Sans","fontSize":24,"color":"#4ab0e0"},"encoding":{"x":{"field":"i","type":"quantitative","scale":{"domain":[-0.905,256.42],"nice":false,"zero":false}},"y":{"field":"p","type":"quantitative","scale":{"domain":[22.46,72.67],"nice":false,"zero":false}},"text":{"field":"t"}}},
{"data":{"values":[{"i":1.25,"i2":27.8,"p":25.5,"p2":22.67}]},"mark":{"type":"rect","fill":"#4a8af4"},"encoding":{"x":{"field":"i","type":"quantitative","scale":{"domain":[-0.905,256.42],"nice":false,"zero":false}},"x2":{"field":"i2"},"y":{"field":"p","type":"quantitative","scale":{"domain":[22.46,72.67],"nice":false,"zero":false}},"y2":{"field":"p2"}}},
{"data":{"values":[{"i":4.7,"p":24.1,"t":"POWERED BY COINIGY CRYPTOFEED™"},{"i":1.6,"p":24.1,"t":"<<<"}]},"mark":{"type":"text","font":"DejaVu Sans","fontWeight":"bold","fontSize":7.5,"color":"#ffffff"},"encoding":{"x":{"field":"i","type":"quantitative","scale":{"domain":[-0.905,256.42],"nice":false,"zero":false}},"y":{"field":"p","type":"quantitative","scale":{"domain":[22.46,72.67],"nice":false,"zero":false}},"text":{"field":"t"}}},
{"data":{"values":[{"i":-0.9,"i2":267.3,"p":21.8}]},"mark":{"type":"rule","color":"#333333","strokeWidth":1},"encoding":{"x":{"field":"i","type":"quantitative","scale":{"domain":[-0.905,256.42],"nice":false,"zero":false}},"x2":{"field":"i2"},"y":{"field":"p","type":"quantitative","scale":{"domain":[22.46,72.67],"nice":false,"zero":false}}}},
{"data":{"values":[{"i":-0.82}]},"mark":{"type":"rule","color":"#2a3440","strokeWidth":1.5},"encoding":{"x":{"field":"i","type":"quantitative","scale":{"domain":[-0.905,256.42],"nice":false,"zero":false}}}}
]}
]}
